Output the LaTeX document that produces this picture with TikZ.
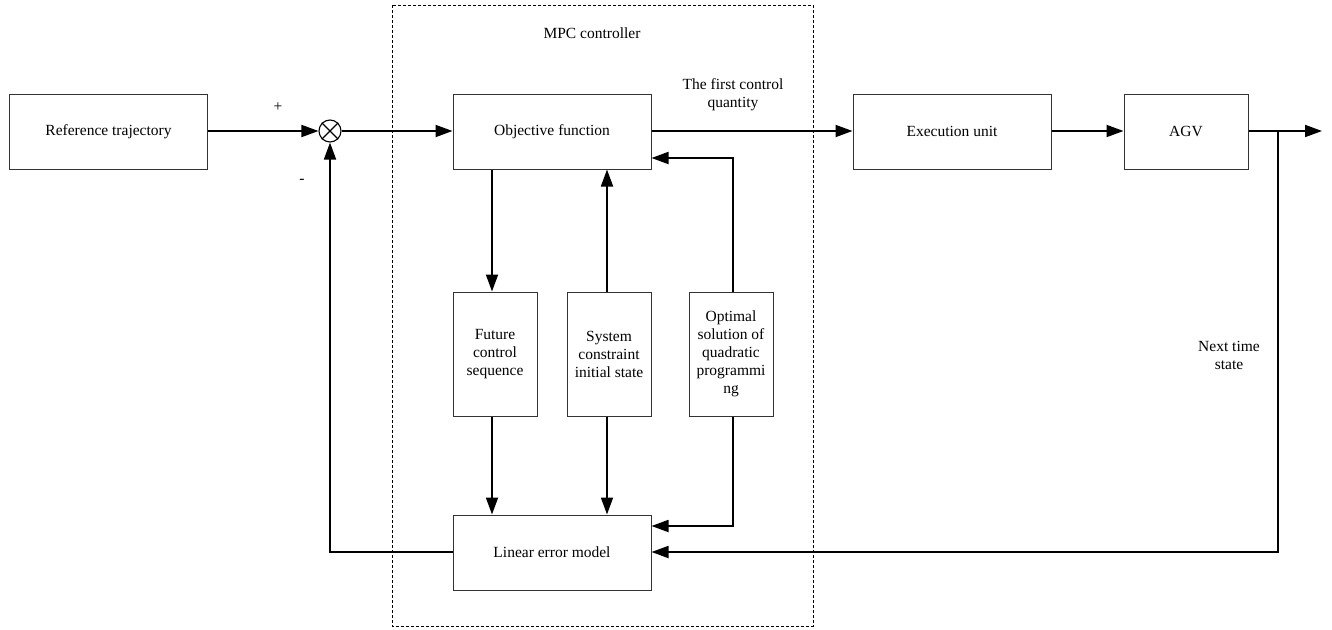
\documentclass[tikz,border=0pt]{standalone}
\usepackage{fontspec}
\setmainfont{Liberation Serif}
\usetikzlibrary{arrows.meta}
\tikzset{
  blk/.style={draw=black!80, line width=1pt, inner sep=0pt, align=center,
              font=\fontsize{15.5}{18}\selectfont},
  wide/.style={blk, minimum width=198pt, minimum height=75pt},
  tall/.style={blk, minimum width=84pt, minimum height=124pt},
  lbl/.style={inner sep=0pt, align=center, font=\fontsize{15.5}{18}\selectfont},
  conn/.style={line width=1.8pt, -{Triangle[length=17pt,width=12pt]}},
}
\begin{document}
\begin{tikzpicture}[x=1pt,y=-1pt]
\useasboundingbox (0,0) rectangle (1332,629);
\fill[white] (0,0) rectangle (1332,629);
% MPC dashed frame
\draw[dashed, line width=0.9pt, dash pattern=on 3pt off 2pt] (392,5) rectangle (813,626);
\node[lbl] (mpc) at (592,33) {MPC controller};
% blocks
\node[wide] (ref) at (108.5,131.5) {Reference trajectory};
\node[wide] (obj) at (552,131.5) {Objective function};
\node[wide] (exe) at (952,131.5) {Execution unit};
\node[blk, minimum width=124pt, minimum height=75pt] (agv) at (1186,131.5) {AGV};
\node[wide] (lem) at (552,552.5) {Linear error model};
\node[tall] (fut) at (495,354) {Future\\control\\sequence};
\node[tall] (sys) at (609,354) {System\\constraint\\initial state};
\node[tall] (opt) at (731,354) {Optimal\\solution of\\quadratic\\programmi\\ng};
% summing junction
\node[draw, circle, line width=1.1pt, minimum size=22pt, inner sep=0pt] (sum) at (330,131) {};
\draw[line width=1.1pt] (sum.north west) -- (sum.south east) (sum.north east) -- (sum.south west);
\node[lbl] (plus) at (278,107) {+};
\node[lbl] (minus) at (302,181) {-};
% coordinates
\coordinate (out) at (1322,131);
\coordinate (br) at (1278,131);
\coordinate (brd) at (1278,552);
\coordinate (fbc) at (330,552);
\coordinate (optup) at (733,158);
\coordinate (optdn) at (733,526);
% connectors
\draw[conn] (ref.east |- sum) -- (sum);
\draw[conn] (sum) -- (obj.west |- sum);
\draw[conn] (obj.east |- sum) -- (exe.west |- sum);
\draw[conn] (exe.east |- sum) -- (agv.west |- sum);
\draw[conn] (agv.east |- sum) -- (out);
\draw[conn] (br) -- (brd) -- (lem.east |- brd);
\draw[conn] (lem.west |- fbc) -- (fbc) -- (sum.south);
\draw[conn] (obj.south -| 492,0) -- (fut.north -| 492,0);
\draw[conn] (sys.north -| 607,0) -- (obj.south -| 607,0);
\draw[conn] (opt.north -| optup) -- (optup) -- (obj.east |- optup);
\draw[conn] (fut.south -| 492,0) -- (lem.north -| 492,0);
\draw[conn] (sys.south -| 607,0) -- (lem.north -| 607,0);
\draw[conn] (opt.south -| optdn) -- (optdn) -- (lem.east |- optdn);
% labels
\node[lbl] (fcq) at (733,95) {The first control\\quantity};
\node[lbl] (nts) at (1229,355) {Next time\\state};
\end{tikzpicture}
\end{document}
